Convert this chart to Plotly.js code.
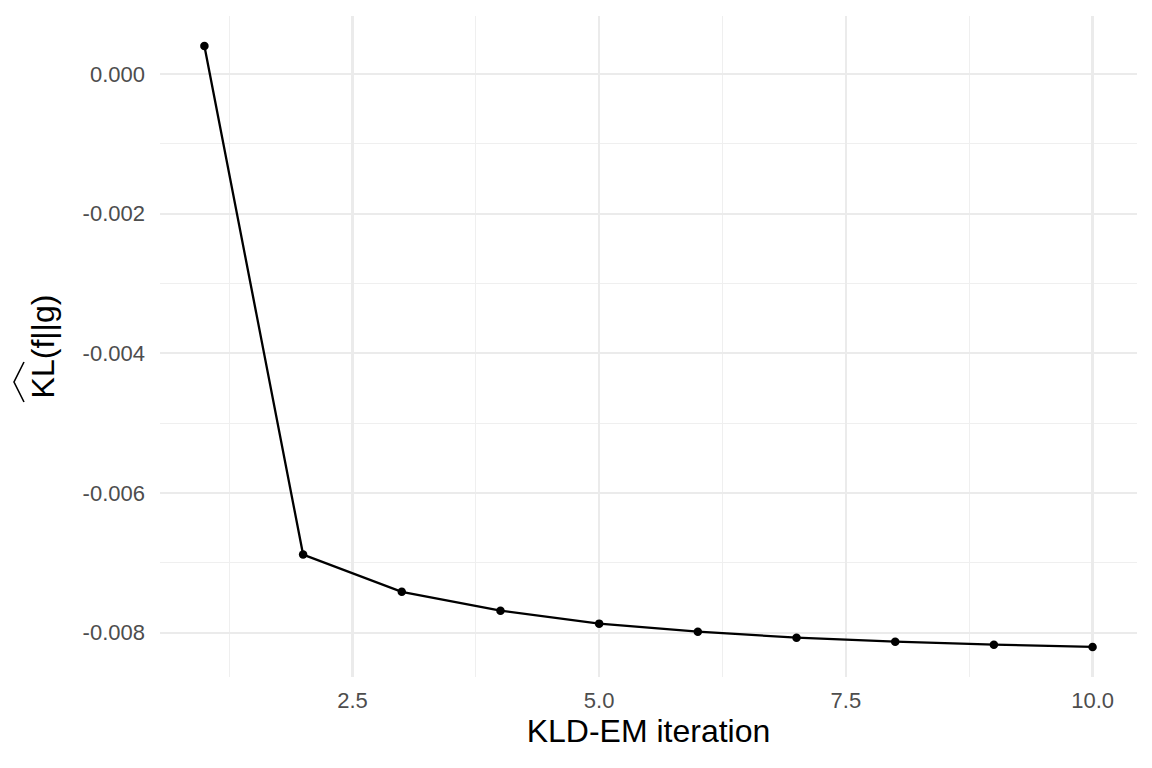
<!DOCTYPE html>
<html>
<head>
<meta charset="utf-8">
<script src="https://cdn.plot.ly/plotly-3.0.1.min.js"></script>
<style>html,body{margin:0;padding:0;background:#fff;}#chart{width:1152px;height:768px;}</style>
</head>
<body>
<div id="chart"></div>
<script>
const iterations = [1, 2, 3, 4, 5, 6, 7, 8, 9, 10];
const klValues = [0.000401, -0.006882, -0.007415, -0.007685, -0.007871, -0.007986, -0.008072, -0.008129, -0.008172, -0.008205];
const xTickVals = [2.5, 5.0, 7.5, 10.0];
const xTickLabels = ["2.5", "5.0", "7.5", "10.0"];
const xMinorVals = [1.25, 3.75, 6.25, 8.75];
const yTickVals = [0, -0.002, -0.004, -0.006, -0.008];
const yTickLabels = ["0.000", "-0.002", "-0.004", "-0.006", "-0.008"];
const yMinorVals = [0.001, -0.001, -0.003, -0.005, -0.007];

const trace = {
  x: iterations, y: klValues, type: 'scatter', mode: 'lines+markers',
  line: {color: '#000000', width: 2.3},
  marker: {color: '#000000', size: 8.5},
  hoverinfo: 'x+y'
};

const xmin = Math.min(...iterations), xmax = Math.max(...iterations);
const ymin = Math.min(...klValues), ymax = Math.max(...klValues);
const xpad = (xmax - xmin) * 0.05, ypad = (ymax - ymin) * 0.05;

const layout = {
  width: 1152, height: 768,
  paper_bgcolor: '#ffffff', plot_bgcolor: '#ffffff',
  margin: {l: 160, r: 15, t: 16, b: 91},
  showlegend: false,
  font: {family: 'Liberation Sans, Arial, sans-serif', color: '#4D4D4D'},
  xaxis: {
    range: [xmin - xpad, xmax + xpad],
    tickmode: 'array', tickvals: xTickVals, ticktext: xTickLabels,
    ticks: '', ticklabelstandoff: 8,
    tickfont: {size: 22, color: '#4D4D4D'},
    showgrid: true, gridcolor: '#EBEBEB', gridwidth: 2.2,
    zeroline: false, showline: false,
    minor: {tickmode: 'array', tickvals: xMinorVals, showgrid: true, gridcolor: '#EFEFEF', gridwidth: 1.1, ticks: ''},
    title: {text: 'KLD-EM iteration', font: {size: 32, color: '#000000'}, standoff: 6}
  },
  yaxis: {
    range: [ymin - ypad, ymax + ypad],
    tickmode: 'array', tickvals: yTickVals, ticktext: yTickLabels,
    ticks: '', ticklabelstandoff: 14,
    tickfont: {size: 22, color: '#4D4D4D'},
    showgrid: true, gridcolor: '#EBEBEB', gridwidth: 2.2,
    zeroline: false, showline: false,
    minor: {tickmode: 'array', tickvals: yMinorVals, showgrid: true, gridcolor: '#EFEFEF', gridwidth: 1.1, ticks: ''},
    title: {text: 'KL(f||g)', font: {size: 32, color: '#000000'}, standoff: 18}
  },
  shapes: [{
    type: 'path', xref: 'paper', yref: 'paper',
    xsizemode: 'pixel', ysizemode: 'pixel', xanchor: 0, yanchor: 0,
    path: 'M -136,275 L -146,295 L -136,315',
    line: {color: '#000000', width: 1.6}
  }]
};

Plotly.newPlot('chart', [trace], layout, {displayModeBar: false, staticPlot: true});
</script>
</body>
</html>
